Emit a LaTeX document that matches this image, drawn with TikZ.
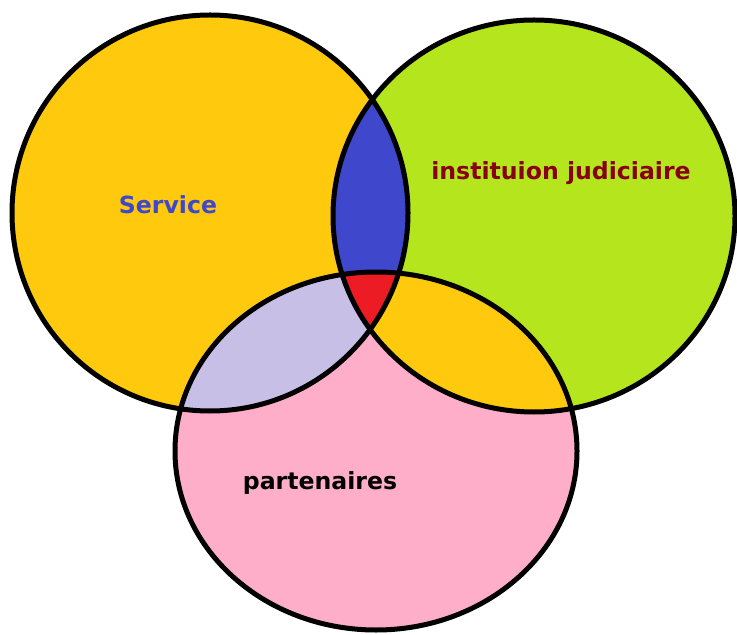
\documentclass[tikz,border=0pt]{standalone}
\usepackage{fontspec}
\newfontfamily\venntextfont{DejaVu Sans}
\usepackage{tikz}
\definecolor{serviceOrange}{HTML}{FFC90E}
\definecolor{justiceGreen}{HTML}{B5E61D}
\definecolor{partnerPink}{HTML}{FFAEC9}
\definecolor{lensBlue}{HTML}{3F48CC}
\definecolor{lensLavender}{HTML}{C8BFE7}
\definecolor{centerRed}{HTML}{ED1C24}
\definecolor{labelRed}{HTML}{880015}
\newcommand{\serviceCircle}{(210,213) circle [radius=198]}
\newcommand{\justiceCircle}{(534,216) ellipse [x radius=201, y radius=196]}
\newcommand{\partnerCircle}{(376,451) ellipse [x radius=201, y radius=179]}
\tikzset{%
  % Specifications for style of the sets and labels:
      outline/.style = {draw=black, line width=2.5pt},
    setlabel/.style = {font=\venntextfont\bfseries\fontsize{11.8}{13}\selectfont,
                       inner sep=0pt},
}

\begin{document}
\begin{tikzpicture}[x=0.5pt, y=-0.5pt]
\useasboundingbox (0,0) rectangle (737,635);
  % Fill of the three sets
\fill[serviceOrange] \serviceCircle;
\fill[justiceGreen]  \justiceCircle;
\fill[partnerPink]   \partnerCircle;

  % Overlaps of two sets
\begin{scope}
  \clip \serviceCircle;
  \fill[lensBlue] \justiceCircle;
  \fill[lensLavender] \partnerCircle;
\end{scope}
\begin{scope}
  \clip \justiceCircle;
  \fill[serviceOrange] \partnerCircle;
\end{scope}

  % Overlap of all three
\begin{scope}
  \clip \serviceCircle;
  \clip \justiceCircle;
  \fill[centerRed] \partnerCircle;
\end{scope}

\draw[outline] \serviceCircle;
\draw[outline] \justiceCircle;
\draw[outline] \partnerCircle;

\node (service) at (168,205)  [setlabel, text=lensBlue]  {Service};
\node (justice) at (561,173)  [setlabel, text=labelRed]  {instituion judiciaire};
\node (partner) at (320,483)  [setlabel, text=black]     {partenaires};
\end{tikzpicture}
\end{document}
